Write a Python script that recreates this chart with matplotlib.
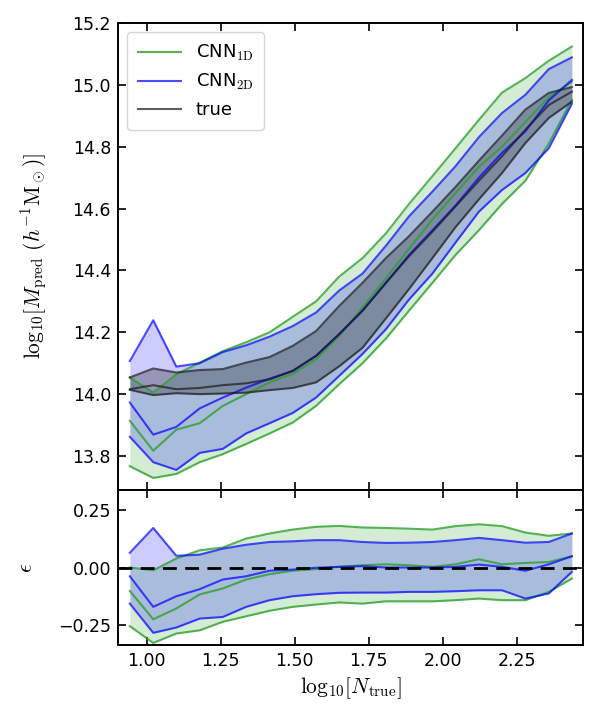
import numpy as np
import matplotlib
matplotlib.use("Agg")
import matplotlib.pyplot as plt

plt.rcParams["mathtext.fontset"] = "cm"

# ─── Data ─────────────────────────────────────────────────────────────────────
log_n = [0.943, 1.022, 1.100, 1.179, 1.257, 1.336, 1.415, 1.493, 1.572, 1.650,
         1.729, 1.808, 1.886, 1.965, 2.043, 2.122, 2.200, 2.279, 2.358, 2.436]

# top panel: log10 M (16th / 50th / 84th percentiles)
cnn1d_lo = [13.767, 13.729, 13.742, 13.780, 13.806, 13.839, 13.873, 13.908, 13.962, 14.032,
            14.100, 14.180, 14.270, 14.360, 14.450, 14.530, 14.615, 14.690, 14.810, 14.952]
cnn1d_md = [13.914, 13.817, 13.885, 13.906, 13.962, 14.000, 14.038, 14.065, 14.113, 14.188,
            14.280, 14.375, 14.470, 14.565, 14.650, 14.735, 14.800, 14.880, 14.960, 15.010]
cnn1d_hi = [14.054, 14.005, 14.064, 14.102, 14.139, 14.168, 14.200, 14.250, 14.300, 14.380,
            14.440, 14.520, 14.615, 14.705, 14.795, 14.887, 14.975, 15.022, 15.078, 15.124]

cnn2d_lo = [13.862, 13.780, 13.755, 13.810, 13.823, 13.873, 13.906, 13.939, 13.989, 14.059,
            14.130, 14.210, 14.306, 14.390, 14.490, 14.590, 14.660, 14.715, 14.795, 14.939]
cnn2d_md = [13.973, 13.869, 13.894, 13.954, 13.989, 14.021, 14.050, 14.075, 14.124, 14.194,
            14.270, 14.360, 14.450, 14.530, 14.610, 14.700, 14.780, 14.850, 14.950, 15.016]
cnn2d_hi = [14.107, 14.239, 14.089, 14.100, 14.136, 14.158, 14.186, 14.220, 14.264, 14.335,
            14.390, 14.480, 14.575, 14.655, 14.737, 14.831, 14.909, 14.968, 15.051, 15.089]

true_lo = [14.014, 13.997, 14.003, 14.000, 14.002, 14.005, 14.013, 14.020, 14.038, 14.090,
           14.150, 14.245, 14.340, 14.440, 14.540, 14.630, 14.715, 14.812, 14.893, 14.946]
true_md = [14.016, 14.029, 14.016, 14.020, 14.029, 14.035, 14.048, 14.075, 14.124, 14.194,
           14.270, 14.360, 14.446, 14.525, 14.607, 14.690, 14.769, 14.855, 14.935, 14.978]
true_hi = [14.054, 14.083, 14.070, 14.078, 14.081, 14.102, 14.120, 14.156, 14.204, 14.285,
           14.360, 14.440, 14.511, 14.590, 14.670, 14.755, 14.836, 14.920, 14.974, 14.993]

# bottom panel: epsilon
eps1d_lo = [-0.255, -0.328, -0.287, -0.273, -0.236, -0.212, -0.188, -0.171, -0.161, -0.152,
            -0.157, -0.147, -0.147, -0.147, -0.142, -0.135, -0.142, -0.142, -0.106, -0.048]
eps1d_md = [-0.102, -0.225, -0.178, -0.117, -0.091, -0.052, -0.029, -0.014, -0.007, 0.003,
            0.010, 0.014, 0.010, 0.003, 0.014, 0.036, 0.014, 0.020, 0.024, 0.049]
eps1d_hi = [0.000, -0.012, 0.039, 0.075, 0.087, 0.126, 0.148, 0.165, 0.177, 0.181,
            0.174, 0.172, 0.169, 0.165, 0.180, 0.188, 0.180, 0.152, 0.138, 0.148]

eps2d_lo = [-0.157, -0.284, -0.261, -0.222, -0.215, -0.171, -0.142, -0.125, -0.116, -0.110,
            -0.109, -0.109, -0.106, -0.106, -0.103, -0.099, -0.099, -0.135, -0.113, -0.019]
eps2d_md = [-0.038, -0.171, -0.125, -0.094, -0.052, -0.038, -0.014, -0.009, -0.001, 0.003,
            0.006, 0.000, 0.000, 0.000, 0.003, 0.013, 0.003, -0.014, 0.014, 0.049]
eps2d_hi = [0.064, 0.172, 0.051, 0.056, 0.082, 0.099, 0.111, 0.114, 0.119, 0.119,
            0.111, 0.107, 0.108, 0.111, 0.119, 0.129, 0.119, 0.108, 0.111, 0.148]


# ─── Helpers ───────────────────────────────────────────────────────────────────

def band(ax, lo, md, hi, color, fill_alpha, line_alpha, label=None):
    ax.fill_between(log_n, lo, hi, color=color, alpha=fill_alpha, lw=0)
    ax.plot(log_n, lo, color=color, alpha=line_alpha, lw=1.5)
    ax.plot(log_n, md, color=color, alpha=line_alpha, lw=1.5, label=label)
    ax.plot(log_n, hi, color=color, alpha=line_alpha, lw=1.5)


def style(ax):
    ax.tick_params(direction="in", top=True, right=True, labelsize=12.5,
                   length=6, width=1.2, pad=5)
    for s in ax.spines.values():
        s.set_linewidth(1.4)


# ─── Figure ────────────────────────────────────────────────────────────────────

fig = plt.figure(figsize=(5.99, 7.22), dpi=100)
ax1 = fig.add_axes([0.197, 0.3213, 0.776, 0.6468])
ax2 = fig.add_axes([0.197, 0.1066, 0.776, 0.2147], sharex=ax1)

green, blue, dark = "#2ca02c", "blue", "#1a1a1a"

band(ax1, cnn1d_lo, cnn1d_md, cnn1d_hi, green, 0.2, 0.8, r"CNN$_{\rm 1D}$")
band(ax1, cnn2d_lo, cnn2d_md, cnn2d_hi, blue, 0.2, 0.7, r"CNN$_{\rm 2D}$")
band(ax1, true_lo, true_md, true_hi, dark, 0.3, 0.7, "true")

ax1.set_ylim(13.69, 15.2)
ax1.set_yticks(np.arange(13.8, 15.21, 0.2))
ax1.set_ylabel(r"${\rm log}_{10}[M_{\rm pred}\ (h^{-1}{\rm M}_\odot)]$",
               fontsize=15.5, labelpad=16)
ax1.legend(loc="upper left", fontsize=13, handlelength=2.4, borderpad=0.6)
plt.setp(ax1.get_xticklabels(), visible=False)
style(ax1)

band(ax2, eps1d_lo, eps1d_md, eps1d_hi, green, 0.2, 0.8)
band(ax2, eps2d_lo, eps2d_md, eps2d_hi, blue, 0.2, 0.7)
ax2.axhline(0, color="black", ls="--", lw=2, dashes=(5, 3), zorder=5)

ax2.set_ylim(-0.337, 0.337)
ax2.set_yticks([-0.25, 0.0, 0.25])
ax2.set_xlim(0.903, 2.473)
ax2.set_xticks([1.0, 1.25, 1.5, 1.75, 2.0, 2.25])
ax2.set_xlabel(r"${\rm log}_{10}[N_{\rm true}]$", fontsize=15.5)
ax2.set_ylabel(r"$\epsilon$", fontsize=15.5, labelpad=16)
style(ax2)

fig.align_ylabels([ax1, ax2])
plt.savefig("out.png", dpi=100)
